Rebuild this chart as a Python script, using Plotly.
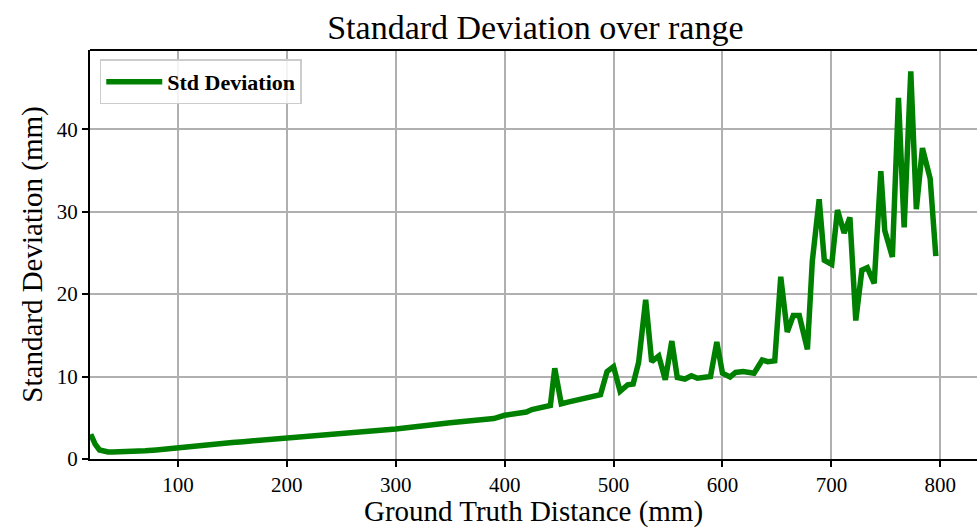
import plotly.graph_objects as go

distance_mm = [
    20, 24, 28, 32, 36, 40, 50, 60, 70, 80, 90, 100, 110, 120, 130, 140, 150,
    160, 170, 180, 190, 200, 210, 220, 230, 240, 250, 260, 270, 280, 290, 300,
    310, 320, 330, 340, 350, 360, 370, 380, 390, 400, 410, 420, 425, 435, 442,
    446, 452, 458, 468, 478, 488, 494, 500, 506, 513, 518, 523, 529.5, 535,
    541.5, 547.5, 553.5, 558.5, 565.5, 571.5, 577, 583, 589, 594.8, 600, 607,
    612, 619, 624.5, 629, 636.5, 641.5, 648, 653.5, 659.5, 665, 670.5, 678,
    682.5, 688.8, 693.5, 700.3, 705.6, 711.7, 717, 722.4, 728, 733, 739.3,
    745.4, 749, 756, 761.6, 766.8, 772.9, 778, 783.6, 790.7, 795.9,
]
std_dev_mm = [
    3.0, 1.8, 1.1, 0.9, 0.85, 0.85, 0.87, 0.92, 1.0, 1.1, 1.25, 1.35, 1.5, 1.6,
    1.75, 1.85, 2.0, 2.1, 2.2, 2.3, 2.4, 2.5, 2.6, 2.75, 2.85, 2.95, 3.1, 3.2,
    3.3, 3.45, 3.55, 3.65, 3.8, 3.9, 4.1, 4.25, 4.4, 4.5, 4.6, 4.75, 4.9, 5.3,
    5.5, 5.7, 6.0, 6.3, 6.5, 11.0, 6.7, 6.9, 7.2, 7.5, 7.8, 10.6, 11.2, 8.2,
    9.0, 9.1, 11.7, 19.3, 11.8, 12.5, 9.6, 14.3, 9.9, 9.7, 10.1, 9.8, 9.85,
    10.0, 14.2, 10.4, 9.95, 10.5, 10.6, 10.4, 10.4, 12.0, 11.8, 11.9, 22.1,
    15.4, 17.4, 17.4, 13.3, 24.0, 31.5, 24.1, 23.6, 30.2, 27.4, 29.3, 16.8,
    22.9, 23.2, 21.3, 34.9, 27.7, 24.5, 43.8, 28.1, 47.0, 30.3, 37.7, 34.0,
    24.6,
]
x_ticks = [100, 200, 300, 400, 500, 600, 700, 800]
y_ticks = [0, 10, 20, 30, 40]

FONT = "Liberation Serif, Times New Roman, serif"

fig = go.Figure()
fig.add_trace(go.Scatter(
    x=distance_mm, y=std_dev_mm, mode="lines", name="Std Deviation",
    line=dict(color="#008000", width=5.5),
))

fig.update_layout(
    width=977, height=528,
    margin=dict(l=90, r=0, t=50, b=69),
    plot_bgcolor="white", paper_bgcolor="white",
    font=dict(family=FONT, color="black", size=20),
    title=dict(text="Standard Deviation over range", x=0.548, xanchor="center",
               y=0.948, yanchor="middle", font=dict(size=34, family=FONT)),
    showlegend=True,
    legend=dict(x=0.011, y=0.977, xanchor="left", yanchor="top",
                bgcolor="rgba(255,255,255,0.85)", bordercolor="#cccccc",
                borderwidth=1.5, font=dict(size=22, family=FONT, weight="bold"),
                itemwidth=56),
)
fig.update_xaxes(
    range=[19.3, 833.7], tickvals=x_ticks,
    showgrid=True, gridcolor="#b0b0b0", gridwidth=1.5,
    showline=True, linecolor="black", linewidth=2, mirror=False,
    ticks="outside", ticklen=6, tickwidth=1.5, tickcolor="black",
    tickfont=dict(size=21, family=FONT),
    title=dict(text="Ground Truth Distance (mm)", font=dict(size=29, family=FONT), standoff=5),
    zeroline=False,
)
fig.update_yaxes(
    range=[0, 49.6], tickvals=y_ticks,
    showgrid=True, gridcolor="#b0b0b0", gridwidth=1.5,
    showline=True, linecolor="black", linewidth=2,
    ticks="outside", ticklen=6, tickwidth=1.5, tickcolor="black",
    tickfont=dict(size=21, family=FONT),
    title=dict(text="Standard Deviation (mm)", font=dict(size=29, family=FONT), standoff=6),
    zeroline=False,
)
# top spine
fig.add_shape(type="line", xref="paper", yref="paper", x0=0, x1=1, y0=1, y1=1,
              line=dict(color="black", width=2))

fig.write_html("out.html")
